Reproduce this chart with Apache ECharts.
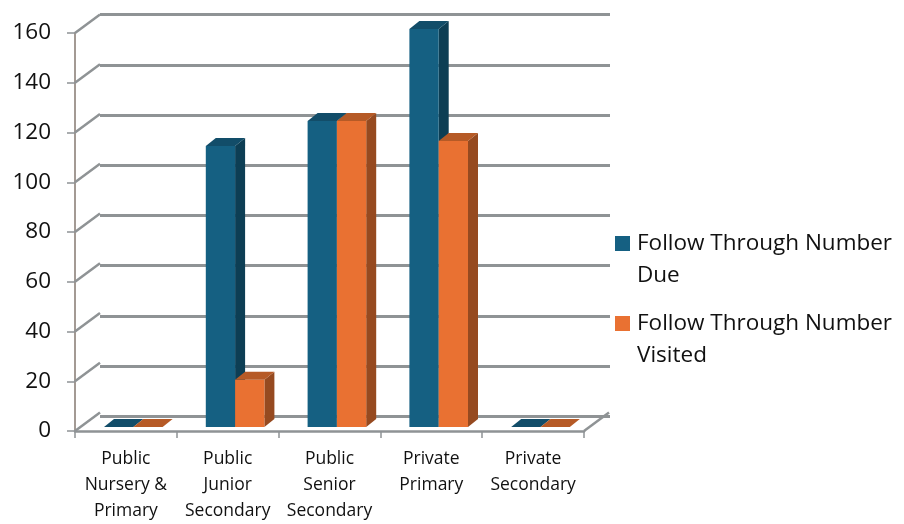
<!DOCTYPE html>
<html>
<head>
<meta charset="utf-8">
<style>html,body{margin:0;padding:0;background:#fff}#c{width:904px;height:524px}</style>
<script src="https://cdn.jsdelivr.net/npm/echarts@6/dist/echarts.min.js"></script>
</head>
<body>
<div id="c"></div>
<script>
var categories = ['Public\nNursery &\nPrimary', 'Public\nJunior\nSecondary', 'Public\nSenior\nSecondary', 'Private\nPrimary', 'Private\nSecondary'];
var seriesDueName = 'Follow Through Number\nDue';
var seriesVisitedName = 'Follow Through Number\nVisited';
var dueValues = [0, 113, 123, 160, 0];
var visitedValues = [0, 19, 123, 115, 0];
var yTicks = [0, 20, 40, 60, 80, 100, 120, 140, 160];

var FONT = '"Open Sans"';
var GRAY = '#8f9395';
var WALL_DX = 25, WALL_DY = -18.5;
var BAR_LEFT = 29, BAR_W = 29.3, BAR_LIFT = 4, DEPTH_X = 10, DEPTH_Y = -8;

function poly(points, fill) {
  return { type: 'polygon', shape: { points: points }, style: { fill: fill } };
}
function line(x1, y1, x2, y2) {
  return { type: 'line', shape: { x1: x1, y1: y1, x2: x2, y2: y2 }, style: { stroke: GRAY, lineWidth: 2.5, fill: null } };
}
function barRenderer(slot, front, side, top) {
  return function (params, api) {
    var cat = api.value(0), val = api.value(1);
    var band = api.size([1, 0])[0];
    var c = api.coord([cat, val]);
    var z = api.coord([cat, 0]);
    var x0 = z[0] - band / 2 + BAR_LEFT + slot * BAR_W;
    var x1 = x0 + BAR_W;
    var yb = z[1] - BAR_LIFT;
    var yt = c[1] - BAR_LIFT;
    var kids = [];
    if (val > 0) {
      kids.push(poly([[x1, yb], [x1 + DEPTH_X, yb + DEPTH_Y], [x1 + DEPTH_X, yt + DEPTH_Y], [x1, yt]], side));
      kids.push(poly([[x0, yb], [x1, yb], [x1, yt], [x0, yt]], front));
    }
    kids.push(poly([[x0, yt], [x1, yt], [x1 + DEPTH_X, yt + DEPTH_Y], [x0 + DEPTH_X, yt + DEPTH_Y]], top));
    return { type: 'group', children: kids };
  };
}
function wallRenderer(params, api) {
  var val = api.value(0);
  var band = api.size([1, 0])[0];
  var p = api.coord([0, val]);
  var xl = p[0] - band / 2;
  var kids = [line(xl, p[1], xl + WALL_DX, p[1] + WALL_DY)];
  if (val === 0) {
    var xr = xl + band * categories.length;
    kids.push(line(xr, p[1], xr + WALL_DX, p[1] + WALL_DY));
  }
  return { type: 'group', children: kids };
}

var chart = echarts.init(document.getElementById('c'), null, { renderer: 'canvas' });
chart.setOption({
  animation: false,
  backgroundColor: '#ffffff',
  textStyle: { fontFamily: FONT },
  legend: {
    orient: 'vertical',
    left: 615,
    top: 227.5,
    padding: 0,
    itemWidth: 17,
    itemHeight: 47,
    itemGap: 16,
    icon: 'path://M0 0H15V15H0Z M17 47L17 47',
    itemStyle: { borderWidth: 0 },
    data: [seriesDueName, seriesVisitedName],
    textStyle: { fontFamily: FONT, fontSize: 22.5, lineHeight: 32, color: '#111111' }
  },
  grid: [
    { left: 75, width: 509, top: 33, height: 401 },
    { left: 100, width: 510, top: 14.7, height: 401.5 }
  ],
  xAxis: [
    {
      type: 'category', gridIndex: 0, data: categories,
      axisLine: { lineStyle: { color: GRAY, width: 2.5 } },
      axisTick: { show: true, alignWithLabel: false, length: 7, lineStyle: { color: GRAY, width: 1.5 } },
      axisLabel: { fontFamily: FONT, fontSize: 17.5, lineHeight: 26, color: '#111111', margin: 15, interval: 0 }
    },
    {
      type: 'category', gridIndex: 1, data: categories,
      axisLine: { show: false }, axisTick: { show: false }, axisLabel: { show: false }
    }
  ],
  yAxis: [
    {
      type: 'value', gridIndex: 0, min: 0, max: 160, interval: 20,
      axisLine: { show: true, lineStyle: { color: '#a39a94', width: 2 } },
      axisTick: { show: true, length: 8, lineStyle: { color: GRAY, width: 1.5 } },
      axisLabel: { fontFamily: FONT, fontSize: 22.5, color: '#111111', margin: 24 },
      splitLine: { show: false }
    },
    {
      type: 'value', gridIndex: 1, min: 0, max: 160, interval: 20,
      axisLine: { show: false }, axisTick: { show: false }, axisLabel: { show: false },
      splitLine: { show: true, lineStyle: { color: GRAY, width: 3 } }
    }
  ],
  series: [
    {
      type: 'custom', name: 'wall', xAxisIndex: 0, yAxisIndex: 0, clip: false, silent: true, z: 1,
      encode: { y: 0 },
      data: yTicks.map(function (t) { return [t]; }),
      renderItem: wallRenderer
    },
    {
      type: 'custom', name: seriesDueName, xAxisIndex: 0, yAxisIndex: 0, clip: false, z: 3,
      itemStyle: { color: '#156082' },
      encode: { x: 0, y: 1 },
      data: dueValues.map(function (v, i) { return [i, v]; }),
      renderItem: barRenderer(0, '#156082', '#0d3e54', '#124d69')
    },
    {
      type: 'custom', name: seriesVisitedName, xAxisIndex: 0, yAxisIndex: 0, clip: false, z: 4,
      itemStyle: { color: '#E97132' },
      encode: { x: 0, y: 1 },
      data: visitedValues.map(function (v, i) { return [i, v]; }),
      renderItem: barRenderer(1, '#E97132', '#964a20', '#b65a26')
    }
  ]
});
</script>
</body>
</html>
